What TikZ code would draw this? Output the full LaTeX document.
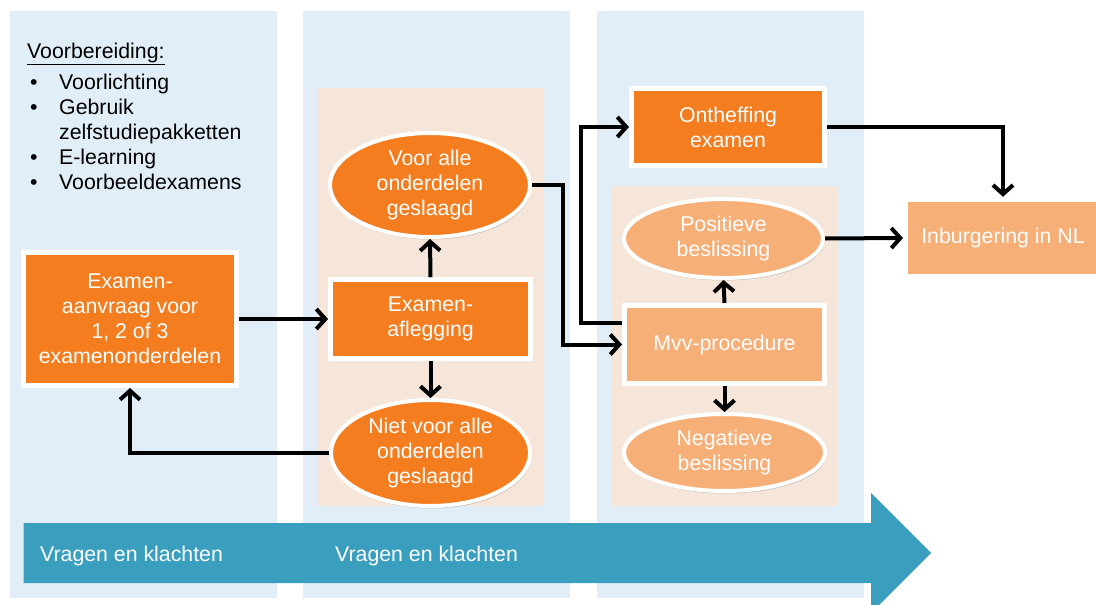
\documentclass[tikz,border=0pt]{standalone}
\usepackage{fontspec}
\setmainfont{Liberation Sans}
\usetikzlibrary{arrows.meta,shadows,calc,shapes.geometric}
\definecolor{panelblue}{RGB}{225,238,247}
\definecolor{peach}{RGB}{245,230,217}
\definecolor{orangeA}{RGB}{244,125,32}
\definecolor{orangeB}{RGB}{247,175,120}
\definecolor{teal}{RGB}{58,159,191}
\tikzset{
  txt/.style={font=\fontsize{21.3}{25}\selectfont},
  shd/.style={drop shadow={shadow xshift=1.2pt,shadow yshift=-2.5pt,opacity=0.18,fill=black}},
  darkbox/.style={txt,rectangle,fill=orangeA,draw=white,line width=5pt,text=white,align=center,inner sep=0pt,shd},
  lightbox/.style={darkbox,fill=orangeB},
  darkell/.style={txt,ellipse,fill=orangeA,draw=white,line width=4pt,text=white,align=center,inner sep=0pt,shd},
  lightell/.style={darkell,fill=orangeB},
  conn/.style={line width=4pt,-{Straight Barb[length=9pt,width=20pt]}},
}
\begin{document}
\begin{tikzpicture}[x=1pt,y=-1pt]
\useasboundingbox (0,0) rectangle (1096,605);
\clip (0,0) rectangle (1096,605);
% panels
\fill[panelblue] (10,11) rectangle (277,598);
\fill[panelblue] (303,11) rectangle (570,598);
\fill[panelblue] (597,11) rectangle (864,598);
\fill[peach] (317,88) rectangle (544,506);
\fill[peach] (611,186) rectangle (838,506);
% big arrow
\fill[teal] (23.5,523) -- (871,523) -- (871,493) -- (931,553) -- (871,613) -- (871,583) -- (23.5,583) -- cycle;
\node[txt,text=white,anchor=base west,inner sep=0pt] (vk1) at (40,561) {Vragen en klachten};
\node[txt,text=white,anchor=base west,inner sep=0pt] (vk2) at (335,561) {Vragen en klachten};
% preparation text
\node[txt,anchor=base west,inner sep=0pt] (prep) at (27,58) {\underline{Voorbereiding:}};
\node[txt,anchor=base west,inner sep=0pt,align=left] (list) at (30,189)
  {\makebox[29pt][l]{•}Voorlichting\\
   \makebox[29pt][l]{•}Gebruik\\
   \hspace*{29pt}zelfstudiepakketten\\
   \makebox[29pt][l]{•}E-learning\\
   \makebox[29pt][l]{•}Voorbeeldexamens};
% nodes
\node[darkbox,minimum width=212.5pt,minimum height=133pt] (aanvraag) at (130,319)
  {Examen-\\aanvraag voor\\1, 2 of 3\\examenonderdelen};
\node[darkbox,minimum width=200pt,minimum height=78.5pt] (aflegging) at (430.5,319)
  {Examen-\\aflegging};
\node[darkell,minimum width=200pt,minimum height=104pt] (voor) at (430,185)
  {Voor alle\\onderdelen\\geslaagd};
\node[darkell,minimum width=199pt,minimum height=106pt] (niet) at (430.5,453)
  {Niet voor alle\\onderdelen\\geslaagd};
\node[darkbox,minimum width=193pt,minimum height=77pt] (ontheffing) at (728,127)
  {Ontheffing\\examen};
\node[lightbox,minimum width=200pt,minimum height=78pt] (mvv) at (724.5,344.5)
  {Mvv-procedure};
\node[lightell,minimum width=199pt,minimum height=79pt] (pos) at (723.5,238.5)
  {Positieve\\beslissing};
\node[lightell,minimum width=201pt,minimum height=77pt] (neg) at (724.5,452.5)
  {Negatieve\\beslissing};
\node[lightbox,minimum width=195pt,minimum height=77.5pt] (inb) at (1003,238)
  {Inburgering in NL};
% connectors
\draw[conn] (aanvraag.east) -- (aflegging.west);
\draw[conn] (aflegging.north) -- (voor.south);
\draw[conn] (aflegging.south) -- (niet.north);
\draw[conn] (niet.west) -| (aanvraag.south);
\draw[conn] (voor.east) -- ++(31,0) |- (mvv.west);
\draw[conn] ([yshift=22pt]mvv.west) -- ++(-41,0) |- (ontheffing.west);
\draw[conn] (ontheffing.east) -| (inb.north);
\draw[conn] (pos.east) -- (inb.west);
\draw[conn] (mvv.north) -- (pos.south);
\draw[conn] (mvv.south) -- (neg.north);
\end{tikzpicture}
\end{document}
